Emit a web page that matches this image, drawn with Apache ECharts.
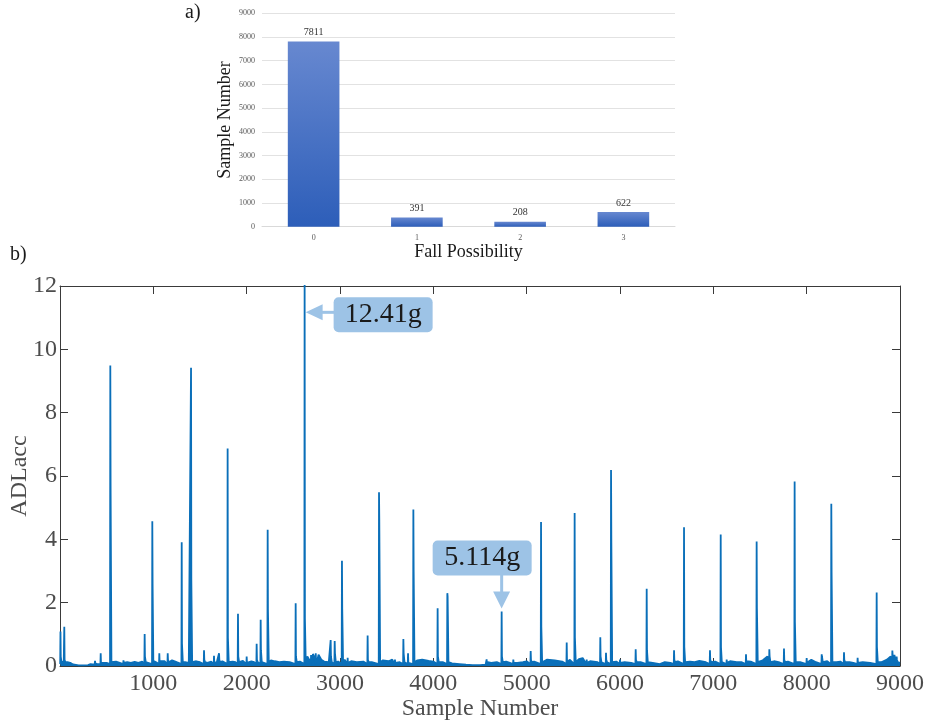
<!DOCTYPE html>
<html><head><meta charset="utf-8">
<script src="https://cdn.jsdelivr.net/npm/echarts@6/dist/echarts.min.js"></script>
<style>html,body{margin:0;padding:0;background:#fff}#c{width:931px;height:725px}</style>
</head><body><div id="c"></div>
<script>
// ---- panel a) data ----
const fallCategories = ['0', '1', '2', '3'];
const fallCounts = [7811, 391, 208, 622];
const fallAxisMax = 9000;
const fallAxisStep = 1000;

// ---- panel b) data ----
const spikeSamples = [5, 46, 330, 375, 436, 539, 680, 907, 989, 1064, 1154, 1304, 1404, 1543, 1650, 1704, 1796, 1907, 2000, 2107, 2150, 2225, 2525, 2621, 2690, 2740, 2900, 2943, 3021, 3082, 3296, 3418, 3589, 3679, 3729, 3786, 4046, 4150, 4571, 4732, 4857, 5043, 5154, 5429, 5514, 5643, 5789, 5850, 5904, 6000, 6168, 6286, 6429, 6579, 6686, 6964, 7079, 7143, 7350, 7464, 7600, 7757, 7871, 8000, 8161, 8264, 8400, 8546, 8750, 8918, 8964];
const spikePeaks = [1.09, 1.24, 0.12, 0.16, 0.4, 9.49, 0.15, 1.01, 4.57, 0.4, 0.4, 3.91, 9.42, 0.5, 0.32, 0.4, 6.87, 1.65, 0.3, 0.7, 1.46, 4.3, 1.98, 12.41, 0.35, 0.4, 0.82, 0.79, 3.32, 0.26, 0.96, 5.49, 0.2, 0.85, 0.4, 4.94, 1.82, 2.3, 0.21, 1.72, 0.2, 0.47, 4.55, 0.74, 4.83, 0.2, 0.91, 0.42, 6.19, 0.2, 0.53, 2.44, 0.12, 0.5, 4.38, 0.5, 4.15, 0.2, 0.37, 3.93, 0.53, 0.55, 5.83, 0.25, 0.37, 5.12, 0.43, 0.26, 2.32, 0.49, 0.3];
const spikeTails = [0.3, 0.2, 0.05, 0.08, 0.1, 5.7, 0.1, 0.3, 2.6, 0.15, 0.2, 0.7, 2.75, 0.2, 0.1, 0.2, 0.9, 0.3, 0.1, 0.2, 0.5, 1.77, 0.3, 1.5, 0.2, 0.2, 0.3, 0.4, 1.8, 0.1, 0.2, 4.57, 0.1, 0.4, 0.1, 3.04, 0.3, 2.2, 0.05, 0.3, 0.1, 0.2, 1.25, 0.2, 0.9, 0.1, 0.3, 0.2, 4.04, 0.1, 0.2, 0.5, 0.08, 0.2, 0.6, 0.2, 0.6, 0.1, 0.15, 1.82, 0.3, 0.2, 1.4, 0.1, 0.3, 2.99, 0.2, 0.1, 0.6, 0.35, 0.2];
const baseSamples = [15, 40, 80, 110, 140, 160, 200, 250, 300, 350, 400, 460, 500, 560, 600, 640, 680, 720, 760, 800, 840, 880, 940, 1000, 1030, 1080, 1120, 1200, 1250, 1340, 1380, 1460, 1500, 1580, 1620, 1680, 1740, 1850, 1880, 1960, 2020, 2050, 2080, 2180, 2260, 2300, 2350, 2400, 2460, 2570, 2650, 2670, 2710, 2730, 2770, 2800, 2830, 2880, 2980, 3050, 3120, 3180, 3250, 3340, 3460, 3520, 3560, 3640, 3700, 3830, 3880, 3950, 4000, 4100, 4200, 4280, 4350, 4420, 4500, 4560, 4620, 4680, 4780, 4820, 4900, 4960, 5000, 5080, 5220, 5300, 5380, 5460, 5560, 5600, 5680, 5700, 5760, 5960, 6050, 6120, 6220, 6350, 6480, 6540, 6620, 6750, 6800, 6850, 6920, 7020, 7180, 7250, 7300, 7400, 7530, 7580, 7650, 7700, 7800, 7930, 8050, 8100, 8220, 8320, 8360, 8460, 8500, 8600, 8680, 8800, 8860, 8900, 8940, 8990, 9000];
const baseValues = [0.15, 0.1, 0.12, 0.1, 0.05, 0.02, 0.02, 0.02, 0.03, 0.05, 0.06, 0.07, 0.1, 0.12, 0.14, 0.1, 0.18, 0.12, 0.1, 0.13, 0.1, 0.14, 0.13, 0.16, 0.12, 0.2, 0.15, 0.18, 0.12, 0.12, 0.1, 0.15, 0.12, 0.1, 0.14, 0.12, 0.15, 0.14, 0.12, 0.16, 0.12, 0.15, 0.12, 0.16, 0.18, 0.15, 0.12, 0.14, 0.12, 0.14, 0.3, 0.2, 0.38, 0.25, 0.36, 0.2, 0.14, 0.12, 0.14, 0.2, 0.15, 0.12, 0.14, 0.12, 0.18, 0.15, 0.2, 0.12, 0.14, 0.18, 0.2, 0.16, 0.14, 0.12, 0.08, 0.06, 0.04, 0.03, 0.03, 0.04, 0.1, 0.12, 0.14, 0.1, 0.1, 0.12, 0.15, 0.14, 0.2, 0.18, 0.14, 0.2, 0.22, 0.25, 0.15, 0.18, 0.12, 0.14, 0.12, 0.1, 0.12, 0.1, 0.12, 0.1, 0.15, 0.14, 0.12, 0.16, 0.12, 0.14, 0.15, 0.12, 0.12, 0.14, 0.18, 0.3, 0.15, 0.12, 0.14, 0.12, 0.2, 0.12, 0.15, 0.12, 0.14, 0.12, 0.1, 0.12, 0.1, 0.12, 0.2, 0.3, 0.35, 0.12, 0.1];
const spikeFoot = 0.06;
const xTickMax = 9000, xTickStep = 1000;
const yTickMax = 12, yTickStep = 2;
const calloutLabels = ['12.41g', '5.114g'];
const calloutSamples = [2621, 4732];
const calloutValues = [11.2, 1.72];

// ---- build series data ----
const pts = [];
for (let i = 0; i < baseSamples.length; i++) pts.push([baseSamples[i], baseValues[i]]);
for (let i = 0; i < spikeSamples.length; i++) {
  const s = spikeSamples[i];
  pts.push([Math.max(0, s - 3), spikeFoot]);
  pts.push([s, spikePeaks[i]]);
  pts.push([s + 3, spikeTails[i]]);
  pts.push([s + 12, spikeFoot * 2]);
}
pts.sort((a, b) => a[0] - b[0]);

const serif = '"Liberation Serif","Times New Roman",serif';
const axisCol = '#3a3a3a';
const lineCol = '#0a6fb9';
const plain = v => String(v);
const chart = echarts.init(document.getElementById('c'), null, {renderer: 'canvas'});

const option = {
  animation: false,
  backgroundColor: '#fff',
  grid: [
    {left: 262, right: 256, top: 13.3, bottom: 498.3, outerBoundsMode: 'none', containLabel: false},
    {left: 60, right: 31, top: 286, bottom: 59, outerBoundsMode: 'none', containLabel: false}
  ],
  xAxis: [
    {type: 'category', gridIndex: 0, data: fallCategories,
     axisLine: {lineStyle: {color: '#d9d9d9', width: 1}}, axisTick: {show: false},
     axisLabel: {fontSize: 8, color: '#595959', fontFamily: serif, margin: 7},
     name: 'Fall Possibility', nameLocation: 'middle', nameGap: 17, nameMoveOverlap: false,
     nameTextStyle: {fontSize: 18, color: '#1a1a1a', fontFamily: serif}},
    {type: 'value', gridIndex: 1, min: 0, max: xTickMax, interval: xTickStep, position: 'bottom',
     axisLine: {show: true, onZero: false, lineStyle: {color: axisCol, width: 1}},
     axisTick: {show: true, inside: true, length: 8, lineStyle: {color: axisCol}},
     axisLabel: {fontSize: 24, color: '#4d4d4d', fontFamily: serif, margin: 6, showMinLabel: false, formatter: plain},
     splitLine: {show: false},
     name: 'Sample Number', nameLocation: 'middle', nameGap: 31, nameMoveOverlap: false,
     nameTextStyle: {fontSize: 24, color: '#4d4d4d', fontFamily: serif}},
    {type: 'value', gridIndex: 1, min: 0, max: xTickMax, interval: xTickStep, position: 'top',
     axisLine: {show: true, onZero: false, lineStyle: {color: axisCol, width: 1}},
     axisTick: {show: true, inside: true, length: 8, lineStyle: {color: axisCol}},
     axisLabel: {show: false}, splitLine: {show: false}}
  ],
  yAxis: [
    {type: 'value', gridIndex: 0, min: 0, max: fallAxisMax, interval: fallAxisStep,
     axisLine: {show: false}, axisTick: {show: false},
     axisLabel: {fontSize: 8, color: '#595959', fontFamily: serif, margin: 7, formatter: plain},
     splitLine: {lineStyle: {color: '#e2e2e2', width: 1}},
     name: 'Sample Number', nameLocation: 'middle', nameGap: 28, nameRotate: 90, nameMoveOverlap: false,
     nameTextStyle: {fontSize: 18, color: '#1a1a1a', fontFamily: serif}},
    {type: 'value', gridIndex: 1, min: 0, max: yTickMax, interval: yTickStep, position: 'left',
     axisLine: {show: true, onZero: false, lineStyle: {color: axisCol, width: 1}},
     axisTick: {show: true, inside: true, length: 8, lineStyle: {color: axisCol}},
     axisLabel: {fontSize: 24, color: '#4d4d4d', fontFamily: serif, margin: 3, formatter: plain},
     splitLine: {show: false},
     name: 'ADLacc', nameLocation: 'middle', nameGap: 28, nameRotate: 90, nameMoveOverlap: false,
     nameTextStyle: {fontSize: 24, color: '#4d4d4d', fontFamily: serif}},
    {type: 'value', gridIndex: 1, min: 0, max: yTickMax, interval: yTickStep, position: 'right',
     axisLine: {show: true, onZero: false, lineStyle: {color: axisCol, width: 1}},
     axisTick: {show: true, inside: true, length: 8, lineStyle: {color: axisCol}},
     axisLabel: {show: false}, splitLine: {show: false}}
  ],
  series: [
    {type: 'bar', xAxisIndex: 0, yAxisIndex: 0, data: fallCounts, barWidth: '50%',
     itemStyle: {color: new echarts.graphic.LinearGradient(0, 0, 0, 1, [
       {offset: 0, color: '#6788d0'}, {offset: 1, color: '#2d5eb9'}])},
     label: {show: true, position: 'top', distance: 4, fontSize: 10, color: '#333', fontFamily: serif}},
    {type: 'line', xAxisIndex: 1, yAxisIndex: 1, data: pts, showSymbol: false, symbol: 'none',
     sampling: null, clip: true,
     lineStyle: {color: lineCol, width: 1.8},
     areaStyle: {color: lineCol, opacity: 1, origin: 'start'}}
  ]
};
chart.setOption(option);

// ---- callouts positioned from data coordinates ----
function toPx(x, y) { return chart.convertToPixel({xAxisIndex: 1, yAxisIndex: 1}, [x, y]); }
const boxCol = '#9dc3e6';
const g = [];
{
  const p = toPx(calloutSamples[0], calloutValues[0]);
  const tx = p[0] + 1, ty = p[1] + 1;
  g.push({type: 'polygon', shape: {points: [[tx, ty], [tx + 17, ty - 8], [tx + 17, ty + 8]]}, style: {fill: boxCol}});
  g.push({type: 'rect', shape: {x: tx + 15, y: ty - 1.5, width: 15, height: 3}, style: {fill: boxCol}});
  g.push({type: 'rect', shape: {x: tx + 28, y: ty - 15, width: 99, height: 35, r: 5}, style: {fill: boxCol}});
  g.push({type: 'text', x: tx + 28 + 49.5, y: ty + 2.5,
    style: {text: calloutLabels[0], fill: '#1a1a1a', font: '28px ' + serif, align: 'center', verticalAlign: 'middle'}});
}
{
  const p = toPx(calloutSamples[1], calloutValues[1]);
  const tx = p[0], ty = p[1] - 3;
  g.push({type: 'polygon', shape: {points: [[tx, ty], [tx - 8.5, ty - 17], [tx + 8.5, ty - 17]]}, style: {fill: boxCol}});
  g.push({type: 'rect', shape: {x: tx - 1.5, y: ty - 35, width: 3, height: 20}, style: {fill: boxCol}});
  g.push({type: 'rect', shape: {x: tx - 69, y: ty - 68, width: 99, height: 35, r: 5}, style: {fill: boxCol}});
  g.push({type: 'text', x: tx - 69 + 49.5, y: ty - 50.5,
    style: {text: calloutLabels[1], fill: '#1a1a1a', font: '28px ' + serif, align: 'center', verticalAlign: 'middle'}});
}
g.push({type: 'text', left: 185, top: 3, style: {text: 'a)', fill: '#1a1a1a', font: '20px ' + serif}});
g.push({type: 'text', left: 10, top: 245, style: {text: 'b)', fill: '#1a1a1a', font: '20px ' + serif}});
chart.setOption({graphic: g});
</script></body></html>
